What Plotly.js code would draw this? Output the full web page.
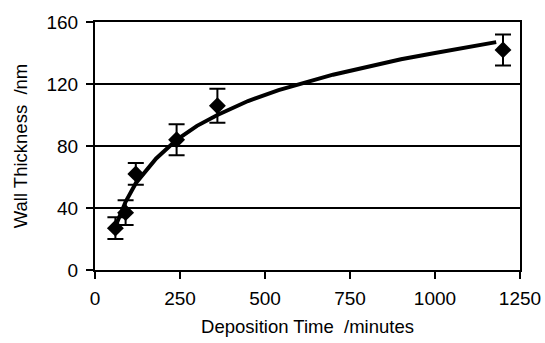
<!DOCTYPE html>
<html>
<head>
<meta charset="utf-8">
<script src="https://cdn.plot.ly/plotly-3.0.1.min.js"></script>
<style>html,body{margin:0;padding:0;background:#fff;}#chart{width:545px;height:343px;}</style>
</head>
<body>
<div id="chart"></div>
<script>
// Measured points
var depositionTime = [60, 90, 120, 240, 360, 1200];
var wallThickness = [27, 37, 62, 84, 106, 142];
var thicknessError = [7, 8, 7, 10, 11, 10];

// Trend curve
var trendTime = [60, 90, 120, 180, 240, 300, 360, 450, 540, 600, 700, 800, 900, 1000, 1100, 1180];
var trendThickness = [28, 44, 56, 72, 84, 93, 100, 109, 116, 120, 126, 131, 136, 140, 144, 147];

var xTickVals = [0, 250, 500, 750, 1000, 1250];
var yTickVals = [0, 40, 80, 120, 160];

var font = {family: 'Liberation Sans, Arial, sans-serif', color: '#000'};

var traces = [
  {
    x: trendTime, y: trendThickness, type: 'scatter', mode: 'lines',
    line: {color: '#000', width: 4}, hoverinfo: 'skip', showlegend: false
  },
  {
    x: depositionTime, y: wallThickness, type: 'scatter', mode: 'markers',
    marker: {symbol: 'diamond', size: 13, color: '#000'},
    error_y: {type: 'data', array: thicknessError, visible: true, color: '#000', thickness: 2, width: 8},
    showlegend: false
  }
];

var layout = {
  width: 545, height: 343,
  margin: {l: 95, r: 25, t: 22, b: 73},
  paper_bgcolor: '#fff', plot_bgcolor: '#fff',
  font: font,
  xaxis: {
    range: [0, 1250], tickvals: xTickVals, ticktext: xTickVals.map(String),
    showgrid: false, zeroline: false,
    showline: true, linecolor: '#000', linewidth: 2, mirror: true,
    ticks: 'outside', ticklen: 7, tickwidth: 2, tickcolor: '#000',
    ticklabelstandoff: 3,
    tickfont: {family: font.family, size: 19, color: '#000'},
    title: {text: 'Deposition Time  /minutes', font: {family: font.family, size: 18.5, color: '#000'}, standoff: 12}
  },
  yaxis: {
    range: [0, 160], tickvals: yTickVals, ticktext: yTickVals.map(String),
    showgrid: true, gridcolor: '#000', gridwidth: 2, zeroline: false,
    showline: true, linecolor: '#000', linewidth: 2, mirror: true,
    ticks: 'outside', ticklen: 7, tickwidth: 2, tickcolor: '#000',
    ticklabelstandoff: 4,
    tickfont: {family: font.family, size: 19, color: '#000'},
    title: {text: 'Wall Thickness  /nm', font: {family: font.family, size: 18.5, color: '#000'}, standoff: 14}
  }
};

Plotly.newPlot('chart', traces, layout, {displayModeBar: false, staticPlot: true});
</script>
</body>
</html>
